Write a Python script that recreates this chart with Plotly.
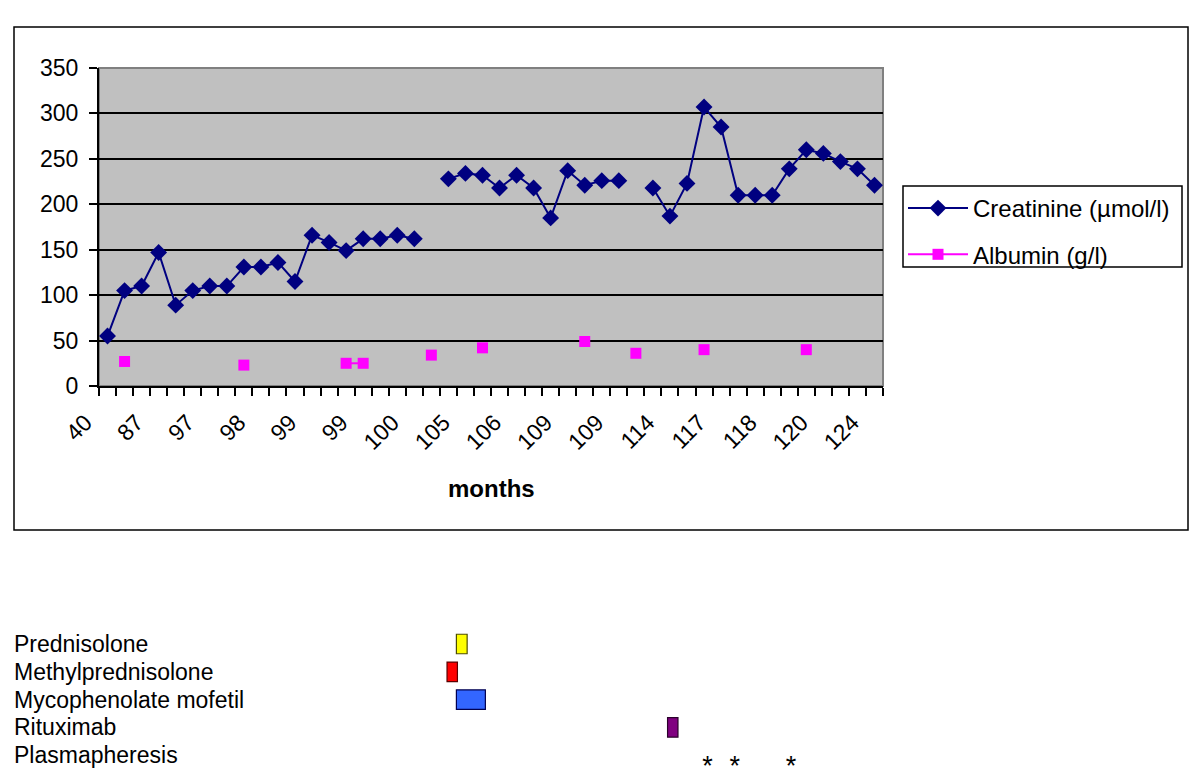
import plotly.graph_objects as go

# ---------------- data ----------------
tick_labels = ["40", "87", "97", "98", "99", "99", "100", "105", "106",
               "109", "109", "114", "117", "118", "120", "124"]
n_points = 46
point_index = list(range(n_points))
label_index = list(range(0, n_points, 3))

creatinine = [55, 105, 110, 147, 89, 105, 110, 110, 131, 131, 136, 115, 166, 158,
              149, 162, 162, 166, 162, None, 228, 234, 232, 218, 232, 218, 185, 237,
              221, 226, 226, None, 218, 187, 223, 307, 285, 210, 210, 210, 239, 260,
              256, 247, 239, 221]
albumin_index = [1, 8, 14, 15, 19, 22, 28, 31, 35, 41]
albumin_value = [27, 23, 25, 25, 34, 42, 49, 36, 40, 40]
albumin = [None] * n_points
for i, v in zip(albumin_index, albumin_value):
    albumin[i] = v

treatments = ["Prednisolone", "Methylprednisolone", "Mycophenolate mofetil",
              "Rituximab", "Plasmapheresis"]
bar_treatments = ["Prednisolone", "Methylprednisolone", "Mycophenolate mofetil", "Rituximab"]
bar_start = [20.47, 19.92, 20.47, 32.86]
bar_end = [21.10, 20.53, 22.17, 33.47]
bar_colors = ["#FFFF00", "#FF0000", "#3366FF", "#800080"]
bar_edges = ["#4d4d00", "#5a0000", "#000050", "#2a002a"]
plasma_positions = [35.2, 36.8, 40.1]

# ---------------- layout helpers ----------------
W, H = 1200, 780
L, R, T, B = 99, 317, 68, 10
PW, PH = W - L - R, H - T - B


def py(ypx):
    return (H - B - ypx) / PH


def px(xpx):
    return (xpx - L) / PW


FONT = "Liberation Sans, Arial, sans-serif"
ROW0, ROWH = 644, 27.8

fig = go.Figure()

fig.add_trace(go.Scatter(
    x=point_index, y=creatinine, mode="lines+markers", name="Creatinine (µmol/l)",
    line=dict(color="#000080", width=2),
    marker=dict(symbol="diamond", size=13, color="#000080"),
    connectgaps=False, legendgroup="c"))
fig.add_trace(go.Scatter(
    x=point_index, y=albumin, mode="lines+markers", name="Albumin (g/l)",
    line=dict(color="#FF00FF", width=2),
    marker=dict(symbol="square", size=11, color="#FF00FF"),
    connectgaps=False, legendgroup="a"))

fig.add_trace(go.Bar(
    y=bar_treatments, x=[e - s for s, e in zip(bar_start, bar_end)], base=bar_start,
    orientation="h", width=0.7, xaxis="x2", yaxis="y2", showlegend=False,
    marker=dict(color=bar_colors, line=dict(color=bar_edges, width=1.2))))
fig.add_trace(go.Scatter(
    x=plasma_positions, y=["Plasmapheresis"] * len(plasma_positions),
    mode="text", text=["*"] * len(plasma_positions), textposition="bottom center",
    textfont=dict(family=FONT, size=27, color="black"),
    xaxis="x2", yaxis="y2", showlegend=False))

annotations = [dict(text="<b>months</b>", x=0.5, y=py(488), xref="paper", yref="paper",
                    showarrow=False, font=dict(family=FONT, size=24, color="black"))]
for t in treatments:
    annotations.append(dict(text=t, x=px(12), y=t, xref="paper", yref="y2",
                            xanchor="left", showarrow=False,
                            font=dict(family=FONT, size=23, color="black")))

shapes = [
    dict(type="rect", xref="paper", yref="paper", x0=0, x1=1, y0=py(386), y1=1,
         fillcolor="#C0C0C0", line=dict(color="#808080", width=2), layer="below"),
    dict(type="rect", xref="paper", yref="paper", x0=px(14), x1=px(1188),
         y0=py(530), y1=py(27), line=dict(color="black", width=1.5)),
    dict(type="rect", xref="paper", yref="paper", x0=px(903), x1=px(1182),
         y0=py(267), y1=py(186), line=dict(color="black", width=1.5)),
]

fig.update_layout(
    width=W, height=H,
    margin=dict(l=L, r=R, t=T, b=B, pad=0, autoexpand=False),
    paper_bgcolor="white", plot_bgcolor="rgba(0,0,0,0)",
    font=dict(family=FONT, size=23, color="black"),
    xaxis=dict(domain=[0, 1], anchor="y", range=[-0.5, n_points - 0.5],
               tickmode="array", tickvals=label_index, ticktext=tick_labels,
               tickangle=-45, ticks="", showgrid=False, zeroline=False,
               showline=True, linecolor="black", linewidth=2,
               ticklabelstandoff=12, ticklabelshift=-22,
               tickfont=dict(family=FONT, size=23),
               minor=dict(tick0=-0.5, dtick=1, ticks="outside", ticklen=8,
                          tickcolor="black", tickwidth=1.5, showgrid=False)),
    yaxis=dict(domain=[py(386), 1], anchor="x", range=[0, 350], dtick=50,
               ticks="outside", ticklen=8, tickwidth=1.5, tickcolor="black",
               showgrid=True, gridcolor="black", gridwidth=1.5, zeroline=False,
               showline=True, linecolor="black", linewidth=2,
               ticklabelstandoff=6, tickfont=dict(family=FONT, size=23)),
    xaxis2=dict(domain=[0, 1], anchor="y2", range=[-0.5, n_points - 0.5],
                visible=False, showgrid=False),
    yaxis2=dict(domain=[py(ROW0 + ROWH * 4.5), py(ROW0 - ROWH * 0.5)], anchor="x2",
                type="category", categoryorder="array", categoryarray=treatments,
                range=[4.5, -0.5], visible=False, showgrid=False),
    legend=dict(x=px(903), y=py(186), xanchor="left", yanchor="top",
                bgcolor="rgba(0,0,0,0)", borderwidth=0,
                font=dict(family=FONT, size=24, color="black"),
                traceorder="grouped", tracegroupgap=12, itemwidth=60),
    showlegend=True,
    annotations=annotations, shapes=shapes,
)

fig.write_html("out.html", config={"displayModeBar": False},
               post_script="document.body.style.margin='0px';")
